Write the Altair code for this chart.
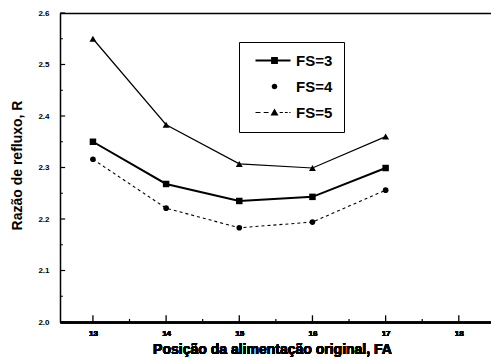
import altair as alt
import pandas as pd

# ---- data ----
fa = [13, 14, 15, 16, 17]
fs3 = [2.350, 2.268, 2.235, 2.243, 2.299]
fs4 = [2.316, 2.221, 2.183, 2.194, 2.256]
fs5 = [2.550, 2.383, 2.307, 2.299, 2.360]
series = ["FS=3", "FS=4", "FS=5"]

x_major = [13, 14, 15, 16, 17, 18]
x_minor = [13.5, 14.5, 15.5, 16.5, 17.5]
y_major = [2.0, 2.1, 2.2, 2.3, 2.4, 2.5, 2.6]
y_minor = [2.05, 2.15, 2.25, 2.35, 2.45, 2.55]

XDOM = [12.55, 18.44]
YDOM = [2.0, 2.6]
FONT = "Liberation Sans"

df = pd.DataFrame({
    "FA": fa * 3,
    "R": fs3 + fs4 + fs5,
    "serie": [s for s in series for _ in fa],
})

xs = alt.Scale(domain=XDOM, nice=False, zero=False)
ys = alt.Scale(domain=YDOM, nice=False, zero=False)

x_axis = alt.Axis(
    orient="bottom", values=x_major, format="d", ticks=False, grid=False,
    domainColor="black", domainWidth=1.5, labelFont=FONT, labelFontSize=8,
    labelFontWeight="bold", labelColor="black", labelPadding=7,
    title="Posição da alimentação original, FA", titleFont=FONT,
    titleFontSize=14, titleFontWeight="bold", titleColor="black",
    titleX=212, titleY=27, titleBaseline="middle",
)
y_axis = alt.Axis(
    orient="left", values=y_major, format=".1f", ticks=False, grid=False,
    domainColor="black", domainWidth=1.5, labelFont=FONT, labelFontSize=8,
    labelFontWeight="bold", labelColor="black", labelPadding=11,
    title="Razão de refluxo, R", titleFont=FONT, titleFontSize=14,
    titleFontWeight="bold", titleColor="black", titleX=-43, titleY=152,
    titleBaseline="middle", titleAlign="center",
)
top_axis = alt.Axis(
    orient="top", ticks=False, labels=False, grid=False, domainColor="black",
    domainWidth=1.5, title="",
)

X = alt.X("FA:Q", scale=xs, axis=x_axis)
Y = alt.Y("R:Q", scale=ys, axis=y_axis)

base = alt.Chart(df)

styles = {
    "FS=3": dict(line=dict(strokeWidth=2.0), shape="square", size=42),
    "FS=4": dict(line=dict(strokeWidth=1.1, strokeDash=[3, 3]), shape="circle", size=32),
    "FS=5": dict(line=dict(strokeWidth=1.2), shape="triangle-up", size=48),
}

layers = []
for s in series:
    st = styles[s]
    sub = base.transform_filter(alt.datum.serie == s)
    layers.append(sub.mark_line(color="black", **st["line"]).encode(x=X, y=Y))
    layers.append(sub.mark_point(shape=st["shape"], size=st["size"], filled=True,
                                 color="black", opacity=1).encode(x=X, y=Y))

# inward ticks drawn as rules
xt_major = pd.DataFrame({"FA": x_major, "y0": YDOM[0], "y1": YDOM[0] + 0.013})
xt_minor = pd.DataFrame({"FA": x_minor, "y0": YDOM[0], "y1": YDOM[0] + 0.006})
yt_major = pd.DataFrame({"R": y_major, "x0": XDOM[0], "x1": XDOM[0] + 0.07})
yt_minor = pd.DataFrame({"R": y_minor, "x0": XDOM[0], "x1": XDOM[0] + 0.04})

layers.append(alt.Chart(xt_major).mark_rule(color="black", strokeWidth=1.3).encode(
    x=X, y=alt.Y("y0:Q", scale=ys, axis=y_axis), y2="y1"))
layers.append(alt.Chart(xt_minor).mark_rule(color="black", strokeWidth=1.2).encode(
    x=alt.X("FA:Q", scale=xs, axis=top_axis), y=alt.Y("y0:Q", scale=ys, axis=y_axis), y2="y1"))
layers.append(alt.Chart(yt_major).mark_rule(color="black", strokeWidth=1.2).encode(
    y=Y, x=alt.X("x0:Q", scale=xs, axis=x_axis), x2="x1"))
layers.append(alt.Chart(yt_minor).mark_rule(color="black", strokeWidth=1.0).encode(
    y=Y, x=alt.X("x0:Q", scale=xs, axis=x_axis), x2="x1"))

# legend symbols: line + marker as custom paths (scale 4 px per unit)
paths = [
    "M-4.75,-0.25H4V0.25H-4.75Z M-0.85,-0.85H0.85V0.85H-0.85Z",
    "M-0.7,0A0.7,0.7 0 1,0 0.7,0A0.7,0.7 0 1,0 -0.7,0Z",
    "M-4.75,-0.15H-3.5V0.15H-4.75Z M-2.7,-0.15H-1.5V0.15H-2.7Z "
    "M1.3,-0.15H2.1V0.15H1.3Z M2.6,-0.15H3.3V0.15H2.6Z M3.7,-0.15H4V0.15H3.7Z "
    "M0,-1L1,0.75H-1Z",
]
nb = "\u00a0\u00a0"
legend_layer = base.mark_point(size=64, filled=True, color="black", opacity=0).encode(
    x=X, y=Y,
    shape=alt.Shape("serie:N", scale=alt.Scale(domain=series, range=paths),
                    legend=alt.Legend(
                        title=None, orient="none", legendX=179, legendY=29,
                        strokeColor="black", padding=11, rowPadding=10,
                        symbolSize=64, symbolOffset=17, labelOffset=14,
                        symbolOpacity=1, symbolFillColor="black",
                        symbolStrokeWidth=0, labelFont=FONT, labelFontSize=15,
                        labelFontWeight="bold", labelColor="black",
                        labelExpr=f"datum.label + '{nb}'",
                    )),
)
layers.append(legend_layer)

chart = alt.layer(*layers).properties(
    width=431, height=309,
    autosize=alt.AutoSizeParams(type="none"),
    padding={"left": 60, "top": 13, "right": 0, "bottom": 38},
).configure_view(strokeWidth=0).configure_legend(strokeWidth=1.5).configure(
    background="white")

chart.save("out.html", embed_options={"renderer": "svg", "actions": False})
